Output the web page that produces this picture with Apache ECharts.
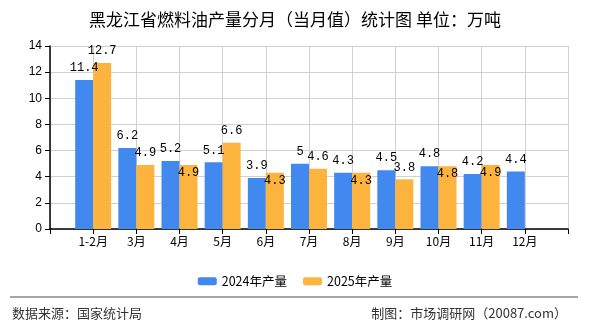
<!DOCTYPE html>
<html><head><meta charset="utf-8">
<script src="https://cdn.jsdelivr.net/npm/echarts@6/dist/echarts.min.js"></script>
<style>html,body{margin:0;padding:0;background:#fff}#c{width:590px;height:330px}</style>
</head><body><div id="c"></div>
<script>
const categories = ["", "1-2月", "3月", "4月", "5月", "6月", "7月", "8月", "9月", "10月", "11月", "12月", ""];
const values2024 = [null, 11.4, 6.2, 5.2, 5.1, 3.9, 5, 4.3, 4.5, 4.8, 4.2, 4.4, null];
const values2025 = [null, 12.7, 4.9, 4.9, 6.6, 4.3, 4.6, 4.3, 3.8, 4.8, 4.9, null, null];
const inside2025 = [3, 5, 7, 9, 10];
const yTicks = [0, 2, 4, 6, 8, 10, 12, 14];

const labelFont = {fontFamily: 'Liberation Mono', fontSize: 12, color: '#000'};
const data2025 = values2025.map((v, i) => inside2025.includes(i)
  ? {value: v, label: {position: 'insideTop', distance: 2}}
  : v);

const chart = echarts.init(document.getElementById('c'));
chart.setOption({
  animation: false,
  title: {text: '黑龙江省燃料油产量分月（当月值）统计图 单位：万吨', left: 'center', top: 6,
    textStyle: {fontSize: 17, fontWeight: 'normal', color: '#000', fontFamily: 'Noto Sans CJK SC'}},
  grid: {left: 50, right: 22, top: 46, bottom: 101},
  legend: {data: ['2024年产量', '2025年产量'], left: 'center', top: 270, itemWidth: 19, itemHeight: 8, itemGap: 16,
    textStyle: {fontSize: 12.5, color: '#000', fontFamily: 'Noto Sans CJK SC'}},
  xAxis: {type: 'category', data: categories, boundaryGap: false,
    axisLine: {lineStyle: {color: '#000', width: 1.5}},
    axisTick: {show: true, length: 5, lineStyle: {color: '#000'}},
    axisLabel: {color: '#000', fontSize: 12, interval: 0, margin: 6, fontFamily: 'Noto Sans CJK SC'},
    splitLine: {show: true, lineStyle: {color: '#d0d0d0', width: 1}}},
  yAxis: {type: 'value', min: yTicks[0], max: yTicks[yTicks.length - 1], interval: 2,
    axisLine: {show: true, lineStyle: {color: '#000', width: 1.5}},
    axisTick: {show: true, length: 5, lineStyle: {color: '#000'}},
    axisLabel: {color: '#000', fontSize: 12, margin: 8, fontFamily: 'Liberation Sans'},
    splitLine: {show: true, lineStyle: {color: '#d0d0d0', width: 1}}},
  series: [
    {name: '2024年产量', type: 'bar', data: values2024, barWidth: 18, barGap: '0%',
      itemStyle: {color: '#4189EE'},
      label: Object.assign({show: true, position: 'top', distance: 6}, labelFont)},
    {name: '2025年产量', type: 'bar', data: data2025, barWidth: 18,
      itemStyle: {color: '#FDB43F'},
      label: Object.assign({show: true, position: 'top', distance: 6}, labelFont)}
  ],
  graphic: [
    {type: 'line', shape: {x1: 10, y1: 297, x2: 578, y2: 297}, style: {stroke: '#888', lineWidth: 1.5}},
    {type: 'text', left: 12, top: 307, style: {text: '数据来源：国家统计局', fontSize: 13, fill: '#333', fontFamily: 'Noto Sans CJK SC'}},
    {type: 'text', right: 23, top: 307, style: {text: '制图：市场调研网（20087.com）', fontSize: 13, fill: '#333', fontFamily: 'Noto Sans CJK SC'}}
  ]
});
</script></body></html>
